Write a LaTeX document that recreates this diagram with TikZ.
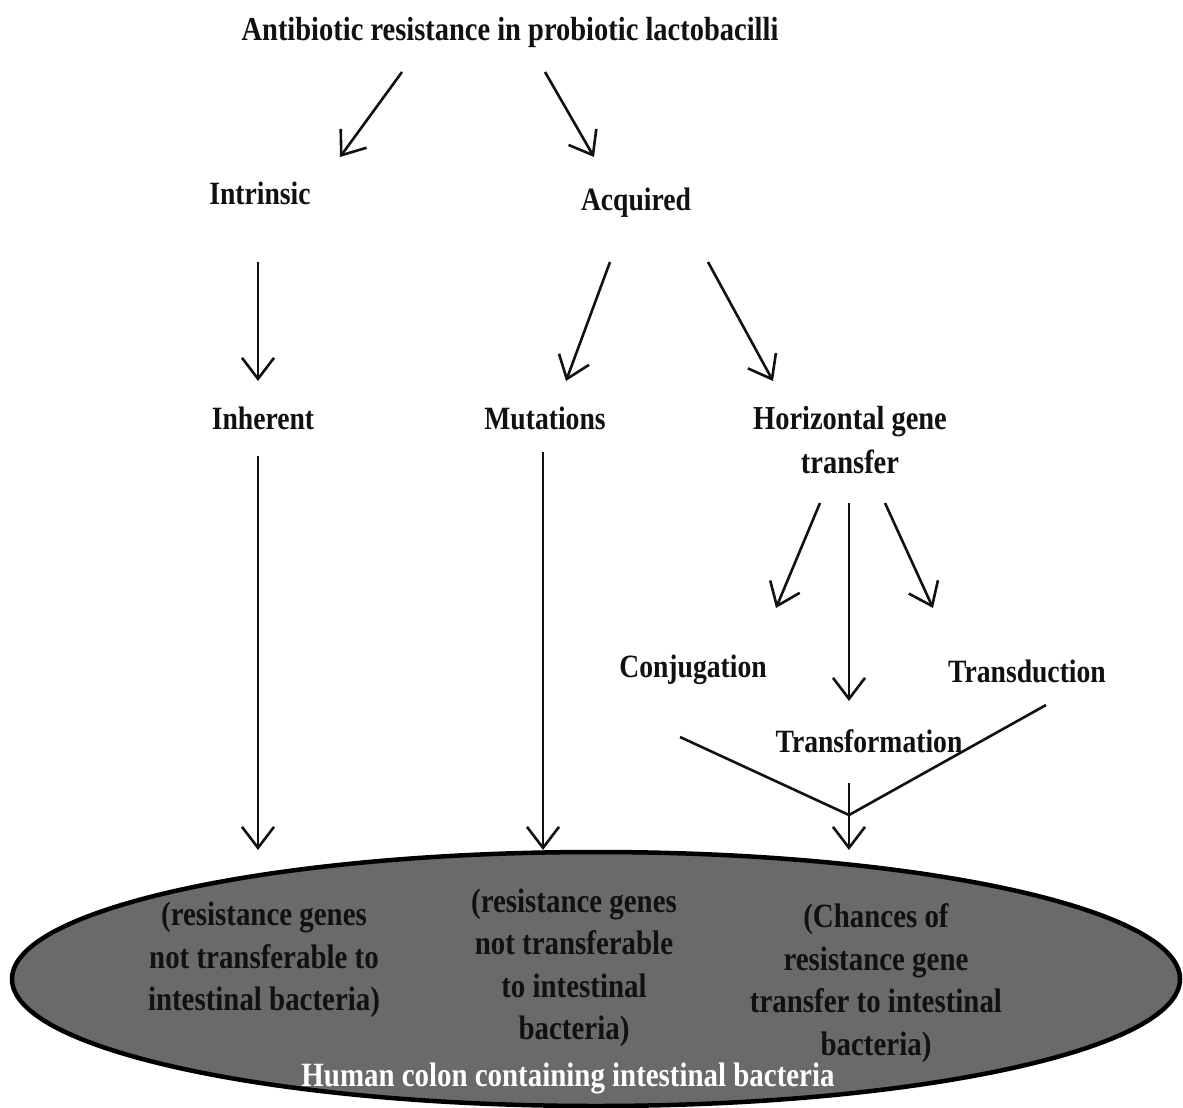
\documentclass[tikz,border=0pt]{standalone}
\usepackage{fontspec}
\setmainfont{Liberation Serif}[FakeStretch=0.85]
\usetikzlibrary{arrows.meta,shapes.geometric}
\definecolor{colon}{HTML}{6A6A6A}
\definecolor{ink}{HTML}{111111}
\tikzset{
  lbl/.style={font=\fontsize{32.5}{44}\selectfont\bfseries, text=ink, inner sep=0pt, align=center},
  biglbl/.style={lbl, font=\fontsize{33.5}{44}\selectfont\bfseries},
  inlbl/.style={font=\fontsize{34}{42.5}\selectfont\bfseries, text=ink, inner sep=0pt, align=center},
  arr/.style={draw=ink, line width=2.6pt, -{Straight Barb[length=21pt,width=32pt,line width=2.6pt]}},
  ln/.style={draw=ink, line width=2.6pt}
}
\begin{document}
\begin{tikzpicture}[x=1pt,y=-1pt]
\useasboundingbox (0,0) rectangle (1183,1108);
\fill[white] (0,0) rectangle (1183,1108);
% ellipse
\node[ellipse, draw=black, fill=colon, line width=4.5pt, minimum width=1168pt, minimum height=254pt, inner sep=0pt] (colon) at (596,979) {};
% labels
\node[biglbl] (title) at (510,32) {Antibiotic resistance in probiotic lactobacilli};
\node[lbl] (intr) at (260,193) {Intrinsic};
\node[lbl] (acq) at (636,203) {Acquired};
\node[lbl] (inh) at (263,418) {Inherent};
\node[lbl] (mut) at (545,418) {Mutations};
\node[biglbl] (hgt) at (850,440) {Horizontal gene\\transfer};
\node[lbl] (conj) at (693,670) {Conjugation};
\node[lbl] (trf) at (869,741) {Transformation};
\node[lbl] (trd) at (1027,671) {Transduction};
\node[inlbl] (t1) at (264,960) {(resistance genes\\not transferable to\\intestinal bacteria)};
\node[inlbl] (t2) at (574,968) {(resistance genes\\not transferable\\to intestinal\\bacteria)};
\node[inlbl] (t3) at (876,983) {(Chances of\\resistance gene\\transfer to intestinal\\bacteria)};
\node[inlbl, text=white] (t4) at (568,1078) {Human colon containing intestinal bacteria};
% connector coordinates
\coordinate (a1s) at (402,72);   \coordinate (a1e) at (340,157);
\coordinate (a2s) at (545,72);   \coordinate (a2e) at (594,157);
\coordinate (a3s) at (258,262);  \coordinate (a3e) at (258,381);
\coordinate (a4s) at (610,262);  \coordinate (a4e) at (566,381);
\coordinate (a5s) at (708,262);  \coordinate (a5e) at (773,381);
\coordinate (a6s) at (258,456);  \coordinate (a6e) at (258,850);
\coordinate (a7s) at (543,452);  \coordinate (a7e) at (543,850);
\coordinate (b1s) at (820,503);  \coordinate (b1e) at (776,608);
\coordinate (b2s) at (849,503);  \coordinate (b2e) at (849,701);
\coordinate (b3s) at (885,503);  \coordinate (b3e) at (933,608);
\coordinate (cL) at (680,737);
\coordinate (cR) at (1046,705);
\coordinate (junc) at (849,815);
\coordinate (c0) at (849,783);
\coordinate (cE) at (849,850);
\draw[arr] (a1s) -- (a1e);
\draw[arr] (a2s) -- (a2e);
\draw[arr] (a3s) -- (a3e);
\draw[arr] (a4s) -- (a4e);
\draw[arr] (a5s) -- (a5e);
\draw[arr] (a6s) -- (a6e);
\draw[arr] (a7s) -- (a7e);
\draw[arr] (b1s) -- (b1e);
\draw[arr] (b2s) -- (b2e);
\draw[arr] (b3s) -- (b3e);
\draw[ln] (cL) -- (junc) -- (cR);
\draw[arr] (c0) -- (cE);
\end{tikzpicture}
\end{document}
